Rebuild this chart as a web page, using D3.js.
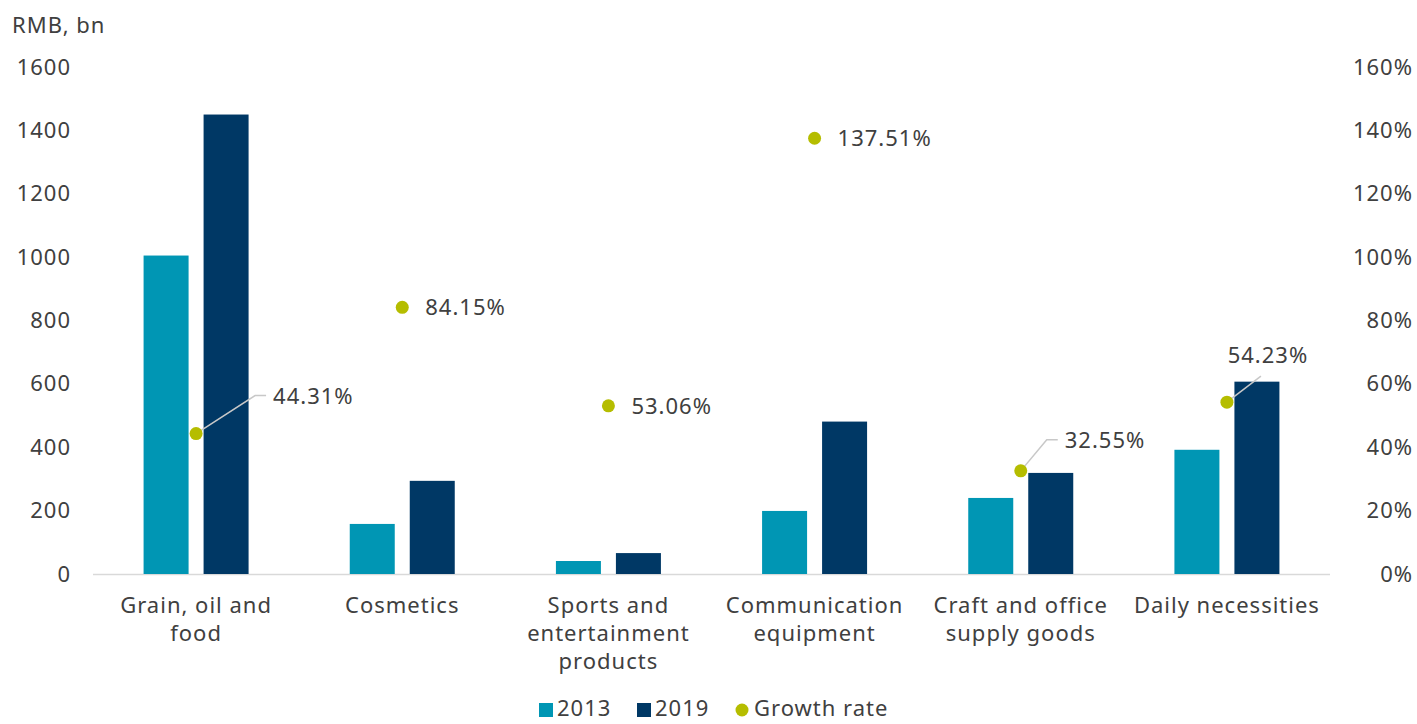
<!DOCTYPE html>
<html>
<head>
  <meta charset="utf-8">
  <script src="https://cdn.jsdelivr.net/npm/d3@7/dist/d3.min.js"></script>
  <style>
    body { margin: 0; background: #fff; }
    svg text { font-family: "Noto Sans", "Open Sans", sans-serif; fill: #404040; letter-spacing: 1px; }
  </style>
</head>
<body>
  <script>
    const categories = [
      ['Grain, oil and', 'food'],
      ['Cosmetics'],
      ['Sports and', 'entertainment', 'products'],
      ['Communication', 'equipment'],
      ['Craft and office', 'supply goods'],
      ['Daily necessities']
    ]
    const values2013 = [1005, 158, 41, 199, 240, 392]
    const values2019 = [1450, 294, 66, 481, 319, 607]
    const growth = [44.31, 84.15, 53.06, 137.51, 32.55, 54.23]
    const leftTicks = [0, 200, 400, 600, 800, 1000, 1200, 1400, 1600]
    const rightTicks = [0, 20, 40, 60, 80, 100, 120, 140, 160]

    const colors = { '2013': '#0096b4', '2019': '#003865', growth: '#b5bd00' }

    const W = 1417, H = 724
    const svg = d3.select('body').append('svg').attr('width', W).attr('height', H)

    const idx = d3.range(categories.length)
    const x = d3.scaleBand().domain(idx).range([93, 1330]).padding(0)
    const series = ['2013', '2019']
    const x1 = d3.scaleBand().domain(series).range([0, 105]).paddingInner(0.25)
    const y = d3.scaleLinear().domain([0, 1600]).range([574, 67])
    const y2 = d3.scaleLinear().domain([0, 160]).range([574, 67])

    // left axis
    const left = svg.append('g').attr('transform', 'translate(71,0)')
      .call(d3.axisLeft(y).tickValues(leftTicks).tickFormat(d3.format('d')).tickSize(0).tickPadding(0))
    left.select('.domain').remove()
    left.selectAll('text').attr('font-size', 22).attr('fill', '#404040')
      .style('font-family', '"Noto Sans", sans-serif')

    // right axis
    const right = svg.append('g').attr('transform', 'translate(1413,0)')
      .call(d3.axisLeft(y2).tickValues(rightTicks).tickFormat(d => d + '%').tickSize(0).tickPadding(0))
    right.select('.domain').remove()
    right.selectAll('text').attr('font-size', 22).attr('fill', '#404040')
      .style('font-family', '"Noto Sans", sans-serif')

    svg.append('text').attr('x', 12).attr('y', 33).attr('font-size', 22).text('RMB, bn')

    // baseline
    svg.append('line').attr('x1', 93).attr('x2', 1330).attr('y1', 574.5).attr('y2', 574.5)
      .attr('stroke', '#d9d9d9').attr('stroke-width', 1.5)

    const off = (x.bandwidth() - 105) / 2
    const bars = [values2013, values2019]
    series.forEach((s, si) => {
      svg.append('g').selectAll('rect').data(bars[si]).join('rect')
        .attr('x', (d, i) => x(i) + off + x1(s))
        .attr('width', x1.bandwidth())
        .attr('y', d => y(d))
        .attr('height', d => y(0) - y(d))
        .attr('fill', colors[s])
    })

    // category labels
    const cat = svg.append('g')
    categories.forEach((lines, i) => {
      const t = cat.append('text').attr('text-anchor', 'middle').attr('font-size', 22)
        .attr('x', x(i) + x.bandwidth() / 2).attr('y', 613)
      lines.forEach((l, j) => t.append('tspan').attr('x', x(i) + x.bandwidth() / 2)
        .attr('dy', j === 0 ? 0 : 28).text(l))
    })

    // growth labels: offsets for label placement (dx, dy, leader)
    const labelPos = [
      { dx: 77, dy: -38, leader: true },
      { dx: 23, dy: 0 },
      { dx: 23, dy: 0 },
      { dx: 23, dy: 0 },
      { dx: 44, dy: -31, leader: true },
      { dx: 0, dy: -47, leader: true, above: true }
    ]
    const cx = i => x(i) + x.bandwidth() / 2
    const g = svg.append('g')
    growth.forEach((v, i) => {
      const px = cx(i), py = y2(v), lp = labelPos[i]
      if (lp.leader) {
        let pts
        if (lp.above) pts = [[px, py], [px + 34, py - 26]]
        else pts = [[px, py], [px + lp.dx - 18, py + lp.dy], [px + lp.dx - 7, py + lp.dy]]
        g.append('path').attr('d', d3.line()(pts)).attr('fill', 'none')
          .attr('stroke', '#c8c8c8').attr('stroke-width', 1.5)
      }
      g.append('circle').attr('cx', px).attr('cy', py).attr('r', 6.5).attr('fill', colors.growth)
      g.append('text').attr('font-size', 22)
        .attr('x', lp.above ? px + 41 : px + lp.dx)
        .attr('y', py + lp.dy + 8)
        .attr('text-anchor', lp.above ? 'middle' : 'start')
        .text(v.toFixed(2) + '%')
    })

    // legend
    const legend = svg.append('g')
    const items = [
      { label: '2013', type: 'rect', color: colors['2013'], x: 539 },
      { label: '2019', type: 'rect', color: colors['2019'], x: 637 },
      { label: 'Growth rate', type: 'circle', color: colors.growth, x: 736 }
    ]
    items.forEach(it => {
      if (it.type === 'rect') {
        legend.append('rect').attr('x', it.x).attr('y', 703).attr('width', 14).attr('height', 14).attr('fill', it.color)
      } else {
        legend.append('circle').attr('cx', it.x + 6).attr('cy', 710).attr('r', 6.5).attr('fill', it.color)
      }
      legend.append('text').attr('x', it.x + 18).attr('y', 716).attr('font-size', 22).text(it.label)
    })
  </script>
</body>
</html>
